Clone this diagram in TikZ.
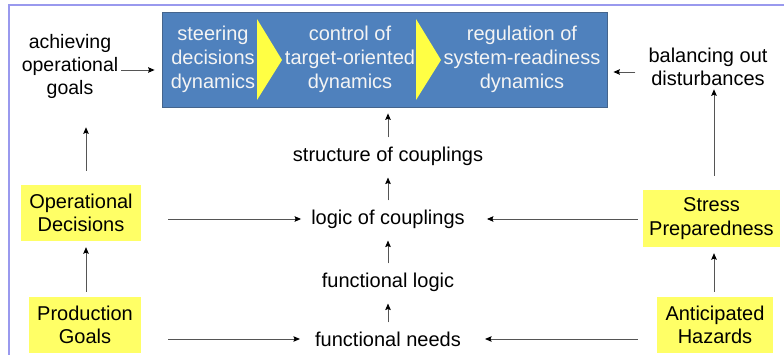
\documentclass[tikz,border=0pt]{standalone}
\usepackage{fontspec}
\setmainfont{Liberation Sans}
\usetikzlibrary{arrows.meta}
\definecolor{framec}{HTML}{9999EE}
\definecolor{boxblue}{HTML}{4F81BD}
\definecolor{boxedge}{HTML}{44648C}
\definecolor{hl}{HTML}{FFFF66}
\definecolor{tri}{HTML}{FFFF44}
\definecolor{ln}{HTML}{555555}
\definecolor{intxt}{HTML}{F4F4F4}
\begin{document}
\begin{tikzpicture}[x=1pt,y=-1pt,
  lbl/.style={align=center,font=\fontsize{20}{23.5}\selectfont,inner sep=0pt,text=black},
  smalllbl/.style={align=center,font=\fontsize{19.5}{23}\selectfont,inner sep=0pt,text=black},
  hlbox/.style={lbl,fill=hl,minimum height=56pt},
  intext/.style={align=center,font=\fontsize{20}{24}\selectfont,inner sep=0pt,text=intxt},
  arr/.style={draw=ln,line width=0.9pt,-{Stealth[length=6.5pt,width=5.5pt,inset=1pt,color=black]}}]
\useasboundingbox (0,0) rectangle (784,355);
\fill[white] (0,0) rectangle (784,355);
\draw[framec,line width=2pt] (9,356) -- (9,5.5) -- (785,5.5);

% blue box
\node[draw=boxedge,fill=boxblue,line width=0.8pt,minimum width=445pt,minimum height=95pt,inner sep=0pt] (box) at (384.5,59.5) {};
\fill[tri] (257,19) -- (282,60) -- (257,100) -- cycle;
\fill[tri] (416,19) -- (441,60) -- (416,100) -- cycle;
\node[intext] (c1) at (213,59) {steering\\decisions\\dynamics};
\node[intext] (c2) at (350,59) {control of\\target-oriented\\dynamics};
\node[intext] (c3) at (522,59) {regulation of\\system-readiness\\dynamics};

% side labels
\node[smalllbl] (ach) at (70,66) {achieving\\operational\\goals};
\node[lbl] (bal) at (708,67) {balancing out\\disturbances};

% yellow boxes
\node[hlbox,minimum width=120pt] (od) at (81,213) {Operational\\Decisions};
\node[hlbox,minimum width=112pt] (pg) at (85,325) {Production\\Goals};
\node[hlbox,minimum width=137pt,minimum height=57pt] (sp) at (711.5,218.5) {Stress\\Preparedness};
\node[hlbox,minimum width=116pt] (ah) at (715,325) {Anticipated\\Hazards};

% centre column
\node[lbl] (soc) at (388,156) {structure of couplings};
\node[lbl] (loc) at (388,219) {logic of couplings};
\node[lbl] (fl) at (388,282) {functional logic};
\node[lbl] (fn) at (388,339) {functional needs};

% vertical arrows
\draw[arr,shorten <=9pt,shorten >=12pt] (fn.north) -- (fl.south);
\draw[arr,shorten <=9pt,shorten >=12pt] (fl.north) -- (loc.south);
\draw[arr,shorten <=9pt,shorten >=12pt] (loc.north) -- (soc.south);
\draw[arr,shorten <=9pt,shorten >=6pt] (soc.north) -- (soc.north |- box.south);
\draw[arr,shorten <=5pt,shorten >=6pt] ([xshift=1pt]pg.north) -- ([xshift=1pt]pg.north |- od.south);
\draw[arr,shorten <=14pt,shorten >=29pt] ([xshift=5pt]od.north) -- ([xshift=5pt]od.north |- ach.south);
\draw[arr,shorten <=5pt,shorten >=6pt] ([xshift=-1pt]ah.north) -- ([xshift=-1pt]ah.north |- sp.south);
\draw[arr,shorten <=14pt,shorten >=3pt] ([xshift=2.5pt]sp.north) -- ([xshift=2.5pt]sp.north |- bal.south);

% horizontal arrows
\draw[arr,shorten <=27pt,shorten >=10pt] (od.east |- loc.west) -- (loc.west);
\draw[arr,shorten <=27pt,shorten >=15pt] (pg.east |- fn.west) -- (fn.west);
\draw[arr,shorten <=5pt,shorten >=22pt] (sp.west |- loc.east) -- (loc.east);
\draw[arr,shorten <=19pt,shorten >=24pt] (ah.west |- fn.east) -- (fn.east);
\draw[arr,shorten <=3pt,shorten >=7pt] ([yshift=-4pt]ach.east) -- ([yshift=-4pt]ach.east -| box.west);
\draw[arr,shorten <=13pt,shorten >=6pt] ([yshift=-5pt]bal.west) -- ([yshift=-5pt]bal.west -| box.east);
\end{tikzpicture}
\end{document}
